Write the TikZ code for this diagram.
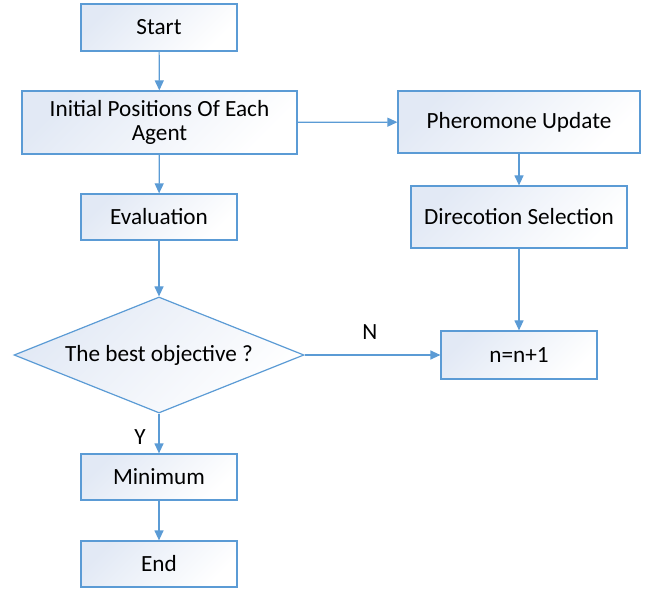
\documentclass[tikz,border=0pt]{standalone}
\usepackage{fontspec}
\setmainfont{Carlito}
\usetikzlibrary{shapes.geometric,arrows.meta}
\definecolor{lineblue}{HTML}{5B9BD5}
\definecolor{boxtint}{HTML}{E2E9F5}
\begin{document}
\begin{tikzpicture}[x=0.5pt, y=-0.5pt, >={Triangle[length=5pt,width=4.5pt]}, font=\fontsize{11.6}{12.2}\selectfont,
  box/.style={draw=lineblue, line width=0.6pt, left color=boxtint, right color=white, shading angle=45, inner sep=0pt, align=center, text=black},
  decision/.style={box, diamond, aspect=2.5, minimum width=145pt, minimum height=58pt},
  flow/.style={->, draw=lineblue, line width=0.6pt}]
\useasboundingbox (0,0) rectangle (651,592);
% left column
\node[box, minimum width=78pt, minimum height=23.5pt] (start) at (159,27.5) {Start};
\node[box, minimum width=137.5pt, minimum height=31.5pt] (init) at (159.5,122.5) {Initial Positions Of Each\\Agent};
\node[box, minimum width=78pt, minimum height=23pt] (eval) at (159,217) {Evaluation};
\node[decision] (best) at (159,355) {The best objective ?};
\node[box, minimum width=78pt, minimum height=23pt] (minim) at (159,477) {Minimum};
\node[box, minimum width=78pt, minimum height=23pt] (stop) at (159,564) {End};
% right column
\node[box, minimum width=121pt, minimum height=31pt] (pher) at (519,122) {Pheromone Update};
\node[box, minimum width=108pt, minimum height=31pt] (dir) at (519,217) {Direcotion Selection};
\node[box, minimum width=78pt, minimum height=24pt] (incr) at (519,355) {n=n+1};
% connectors
\draw[flow] (start) -- (init);
\draw[flow] (init) -- (eval);
\draw[flow] (eval) -- (best);
\draw[flow] (best) -- node[pos=0.6, left=3pt] {Y} (minim);
\draw[flow] (minim) -- (stop);
\draw[flow] (init) -- (pher);
\draw[flow] (pher) -- (dir);
\draw[flow] (dir) -- (incr);
\draw[flow] (best) -- node[pos=0.48, above=4pt] {N} (incr);
\end{tikzpicture}
\end{document}
